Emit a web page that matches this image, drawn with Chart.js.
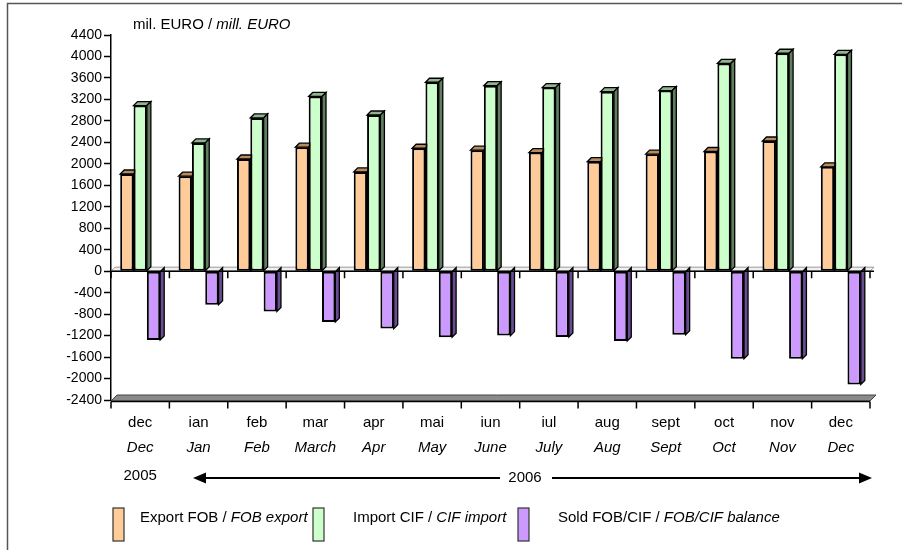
<!DOCTYPE html>
<html>
<head>
<meta charset="utf-8">
<script src="https://cdn.jsdelivr.net/npm/chart.js@4/dist/chart.umd.min.js"></script>
<style>
  html, body { margin: 0; padding: 0; background: #fff; }
  #wrap { width: 902px; height: 550px; position: relative; }
</style>
</head>
<body>
<div id="wrap"><canvas id="c" width="902" height="550"></canvas></div>
<script>
// ---- data ----
const monthsRo = ["dec","ian","feb","mar","apr","mai","iun","iul","aug","sept","oct","nov","dec"];
const monthsEn = ["Dec","Jan","Feb","March","Apr","May","June","July","Aug","Sept","Oct","Nov","Dec"];
const exportFOB = [1810, 1770, 2090, 2310, 1850, 2290, 2255, 2210, 2040, 2180, 2230, 2425, 1945];
const importCIF = [3085, 2390, 2855, 3255, 2910, 3520, 3455, 3420, 3345, 3365, 3870, 4060, 4040];
const balance   = [-1280, -625, -750, -945, -1070, -1230, -1200, -1225, -1300, -1185, -1630, -1630, -2110];
const yMin = -2400, yMax = 4400, yStep = 400;
const year1 = "2005", year2 = "2006";

const FONT = "'Liberation Sans', Arial, sans-serif";
const DEPTH = 4;
const faces = [
  { front: "#FFCC99", top: "#B88A5C", side: "#8A6440" },
  { front: "#CCFFCC", top: "#8FB58F", side: "#5E7E5E" },
  { front: "#CC99FF", top: "#9A74C8", side: "#6A4C94" }
];

function poly(ctx, pts, fill) {
  ctx.beginPath();
  ctx.moveTo(pts[0][0], pts[0][1]);
  for (let i = 1; i < pts.length; i++) ctx.lineTo(pts[i][0], pts[i][1]);
  ctx.closePath();
  ctx.fillStyle = fill;
  ctx.fill();
  ctx.stroke();
}

function mixedText(ctx, x, y, normal, italic, size) {
  ctx.font = size + "px " + FONT;
  ctx.fillText(normal, x, y);
  const w = ctx.measureText(normal).width;
  ctx.font = "italic " + size + "px " + FONT;
  ctx.fillText(italic, x + w, y);
}

const decor = {
  id: "decor",
  beforeDatasetsDraw(chart) {
    const ctx = chart.ctx;
    const xs = chart.scales.x, ys = chart.scales.y;
    const L = xs.left, R = xs.right;
    const yz = ys.getPixelForValue(0);
    const yb = ys.getPixelForValue(yMin);
    ctx.save();
    // floor slab at bottom
    ctx.lineWidth = 1;
    ctx.strokeStyle = "#444";
    poly(ctx, [[L, yb + 1], [R, yb + 1], [R + 6, yb - 5], [L + 6, yb - 5]], "#8a8a8a");
    // zero plane
    ctx.strokeStyle = "#999";
    poly(ctx, [[L, yz], [R, yz], [R + DEPTH, yz - DEPTH], [L + DEPTH, yz - DEPTH]], "#f0f0f0");
    // 3D faces of bars
    ctx.strokeStyle = "#000";
    ctx.lineWidth = 1.3;
    chart.data.datasets.forEach((ds, di) => {
      const meta = chart.getDatasetMeta(di);
      meta.data.forEach((bar) => {
        const w = bar.width;
        const l = bar.x - w / 2, r = bar.x + w / 2;
        const top = Math.min(bar.y, bar.base), bot = Math.max(bar.y, bar.base);
        if (bar.y < bar.base) {
          poly(ctx, [[l, top], [r, top], [r + DEPTH, top - DEPTH], [l + DEPTH, top - DEPTH]], faces[di].top);
        }
        poly(ctx, [[r, top], [r + DEPTH, top - DEPTH], [r + DEPTH, bot - DEPTH], [r, bot]], faces[di].side);
      });
    });
    ctx.restore();
  },
  afterDatasetsDraw(chart) {
    const ctx = chart.ctx;
    const xs = chart.scales.x, ys = chart.scales.y;
    const L = xs.left, R = xs.right;
    const n = monthsRo.length;
    const cw = (R - L) / n;
    const yz = ys.getPixelForValue(0);
    const yb = ys.getPixelForValue(yMin) + 1.5;
    ctx.save();
    ctx.strokeStyle = "#000";
    ctx.lineWidth = 1.5;
    // zero axis line + ticks
    ctx.beginPath();
    ctx.moveTo(L, yz); ctx.lineTo(R + DEPTH, yz);
    for (let i = 0; i <= n; i++) {
      const x = L + i * cw;
      ctx.moveTo(x, yz); ctx.lineTo(x, yz + 7);
    }
    ctx.stroke();
    // bottom axis line + ticks
    ctx.beginPath();
    ctx.moveTo(L, yb); ctx.lineTo(R, yb);
    for (let i = 0; i <= n; i++) {
      const x = L + i * cw;
      ctx.moveTo(x, yb); ctx.lineTo(x, yb + 7);
    }
    ctx.stroke();
    ctx.restore();
  },
  afterDraw(chart) {
    const ctx = chart.ctx;
    const xs = chart.scales.x;
    ctx.save();
    ctx.fillStyle = "#000";
    ctx.textBaseline = "middle";
    // frame
    ctx.strokeStyle = "#555";
    ctx.lineWidth = 1.5;
    ctx.beginPath();
    ctx.moveTo(902, 3.5); ctx.lineTo(7.5, 3.5); ctx.lineTo(7.5, 550);
    ctx.stroke();
    // title
    ctx.textAlign = "left";
    mixedText(ctx, 133, 25, "mil. EURO / ", "mill. EURO", 15);
    // x labels
    ctx.textAlign = "center";
    for (let i = 0; i < monthsRo.length; i++) {
      const cx = xs.getPixelForValue(i);
      ctx.font = "15px " + FONT;
      ctx.fillText(monthsRo[i], cx, 423);
      ctx.font = "italic 15px " + FONT;
      ctx.fillText(monthsEn[i], cx, 448);
    }
    ctx.font = "15px " + FONT;
    ctx.fillText(year1, xs.getPixelForValue(0), 476);
    ctx.fillText(year2, 525, 478);
    // arrow
    const ay = 478;
    ctx.strokeStyle = "#000";
    ctx.lineWidth = 2;
    ctx.beginPath();
    ctx.moveTo(203, ay); ctx.lineTo(500, ay);
    ctx.moveTo(552, ay); ctx.lineTo(862, ay);
    ctx.stroke();
    ctx.beginPath();
    ctx.moveTo(193, ay); ctx.lineTo(206, ay - 5.5); ctx.lineTo(206, ay + 5.5); ctx.closePath();
    ctx.fill();
    ctx.beginPath();
    ctx.moveTo(872, ay); ctx.lineTo(859, ay - 5.5); ctx.lineTo(859, ay + 5.5); ctx.closePath();
    ctx.fill();
    // legend
    const leg = [
      { x: 113, tx: 140, n: "Export FOB / ", it: "FOB export" },
      { x: 313, tx: 353, n: "Import CIF / ", it: "CIF import" },
      { x: 518, tx: 558, n: "Sold FOB/CIF / ", it: "FOB/CIF balance" }
    ];
    ctx.lineWidth = 1.2;
    ctx.strokeStyle = "#333";
    leg.forEach((g, i) => {
      ctx.fillStyle = faces[i].front;
      ctx.fillRect(g.x, 508, 11, 33);
      ctx.strokeRect(g.x, 508, 11, 33);
      ctx.fillStyle = "#000";
      ctx.textAlign = "left";
      mixedText(ctx, g.tx, 518, g.n, g.it, 15);
    });
    ctx.restore();
  }
};

const yTicks = [];
for (let v = yMin; v <= yMax; v += yStep) yTicks.push(v);

new Chart(document.getElementById("c"), {
  type: "bar",
  data: {
    labels: monthsRo,
    datasets: [
      { label: "Export FOB / FOB export", data: exportFOB },
      { label: "Import CIF / CIF import", data: importCIF },
      { label: "Sold FOB/CIF / FOB/CIF balance", data: balance }
    ].map((d, i) => Object.assign(d, {
      backgroundColor: faces[i].front,
      borderColor: "#000",
      borderWidth: 2,
      borderSkipped: false,
      categoryPercentage: 0.685,
      barPercentage: 1.0
    }))
  },
  options: {
    responsive: false,
    animation: false,
    devicePixelRatio: 1,
    layout: { padding: { left: 0, right: 32, top: 35, bottom: 150 } },
    plugins: { legend: { display: false }, tooltip: { enabled: false } },
    scales: {
      x: { display: false },
      y: {
        min: yMin, max: yMax,
        afterFit(scale) { scale.width = 111; },
        afterBuildTicks(scale) { scale.ticks = yTicks.map(v => ({ value: v })); },
        ticks: {
          color: "#000", font: { family: FONT, size: 14 }, padding: 2,
          callback: (v) => String(v)
        },
        grid: { drawOnChartArea: false, color: "#000", tickLength: 7, tickWidth: 1.5 },
        border: { color: "#000", width: 1.5 }
      }
    }
  },
  plugins: [decor]
});
</script>
</body>
</html>
